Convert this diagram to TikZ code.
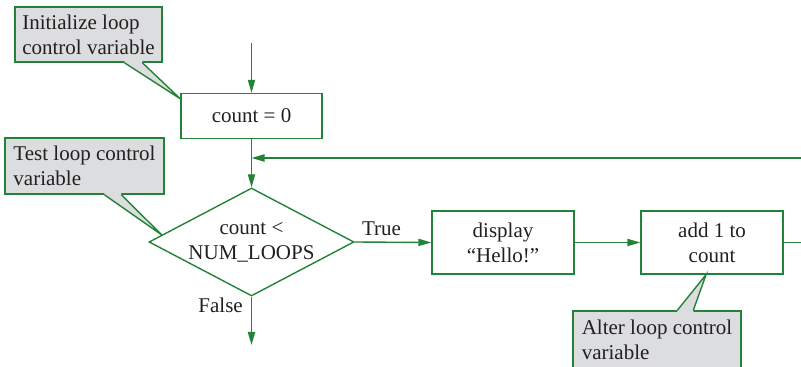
\documentclass[tikz,border=0pt]{standalone}
\usepackage{fontspec}
\setmainfont{Liberation Serif}
\usetikzlibrary{arrows.meta,calc,shapes.geometric}
\definecolor{flowgreen}{RGB}{35,130,55}
\definecolor{notegray}{RGB}{220,221,223}
\definecolor{inkgray}{RGB}{35,31,32}

\begin{document}
\begin{tikzpicture}[x=0.5pt,y=-0.5pt,
  font=\fontsize{10.5}{12.5}\selectfont, text=inkgray,
  box/.style={draw=flowgreen, line width=0.7pt, rectangle, align=center, inner sep=0pt},
  decision/.style={draw=flowgreen, line width=0.7pt, diamond, aspect=1.9, inner sep=0pt,
    align=center, minimum width=102.5pt, minimum height=54pt},
  note/.style={draw=flowgreen, line width=0.7pt, fill=notegray, align=left, inner sep=0pt},
  link/.style={flowgreen, line width=0.7pt, -{Triangle[length=6.5pt,width=3.6pt]}},
  wire/.style={flowgreen, line width=0.7pt},
  tag/.style={text=inkgray}]

 \useasboundingbox (0,0) rectangle (801,367);

 \node (count) at (251.5,116)[box, minimum width=70.5pt, minimum height=22.5pt]{count = 0};
 \node (dec) at (251.5,242)[decision]{count <\\NUM\_LOOPS};
 \node (disp) at (503,242.5)[box, minimum width=71pt, minimum height=31.5pt]{display\\“Hello!”};
 \node (add) at (712,242.5)[box, minimum width=71pt, minimum height=31.5pt]{add 1 to\\count};

 \coordinate (entry) at (251.5,43);
 \coordinate (exit) at (251.5,345);
 \coordinate (loopback) at (805,158);
 \coordinate (outright) at (805,242.5);

 \draw[link] (entry) -- (count.north);
 \draw[link] (count.south) -- (dec.north);
 \draw[link] (loopback) -- (loopback -| count.south);
 \draw[link] (dec.east) -- node[tag, above, pos=0.35, inner sep=3pt] (truelbl) {True} (disp.west);
 \draw[link] (dec.south) -- node[tag, left, pos=0.18, inner sep=4pt] (falselbl) {False} (exit);
 \draw[link] (disp.east) -- (add.west);
 \draw[wire] (add.east) -- (outright);

 % callouts
 \node (initnote) at (88.5,34.5)[note, minimum width=73.5pt, minimum height=27.5pt]{Initialize loop\\control variable};
 \node (testnote) at (84.5,166)[note, minimum width=79.5pt, minimum height=28pt]{Test loop control\\variable};
 \node (alternote) at (657,340)[note, minimum width=84pt, minimum height=29pt]{Alter loop control\\variable};

 \coordinate (inittip) at ($(count.north west)+(0,6)$);
 \coordinate (testtip) at ($(dec.west)!0.13!(dec.north)$);
 \coordinate (altertip) at ($(add.south)+(-6,0)$);

 \fill[notegray] ($(initnote.south west)+(110,-3)$) -- ($(initnote.south west)+(110,0)$) -- (inittip)
   -- ($(initnote.south west)+(128,0)$) -- ($(initnote.south west)+(128,-3)$) -- cycle;
 \draw[wire] ($(initnote.south west)+(110,0)$) -- (inittip) -- ($(initnote.south west)+(128,0)$);

 \fill[notegray] ($(testnote.south west)+(100,-3)$) -- ($(testnote.south west)+(100,0)$) -- (testtip)
   -- ($(testnote.south west)+(117,0)$) -- ($(testnote.south west)+(117,-3)$) -- cycle;
 \draw[wire] ($(testnote.south west)+(100,0)$) -- (testtip) -- ($(testnote.south west)+(117,0)$);

 \fill[notegray] ($(alternote.north west)+(105,3)$) -- ($(alternote.north west)+(105,0)$) -- (altertip)
   -- ($(alternote.north west)+(121,0)$) -- ($(alternote.north west)+(121,3)$) -- cycle;
 \draw[wire] ($(alternote.north west)+(105,0)$) -- (altertip) -- ($(alternote.north west)+(121,0)$);

\end{tikzpicture}
\end{document}
